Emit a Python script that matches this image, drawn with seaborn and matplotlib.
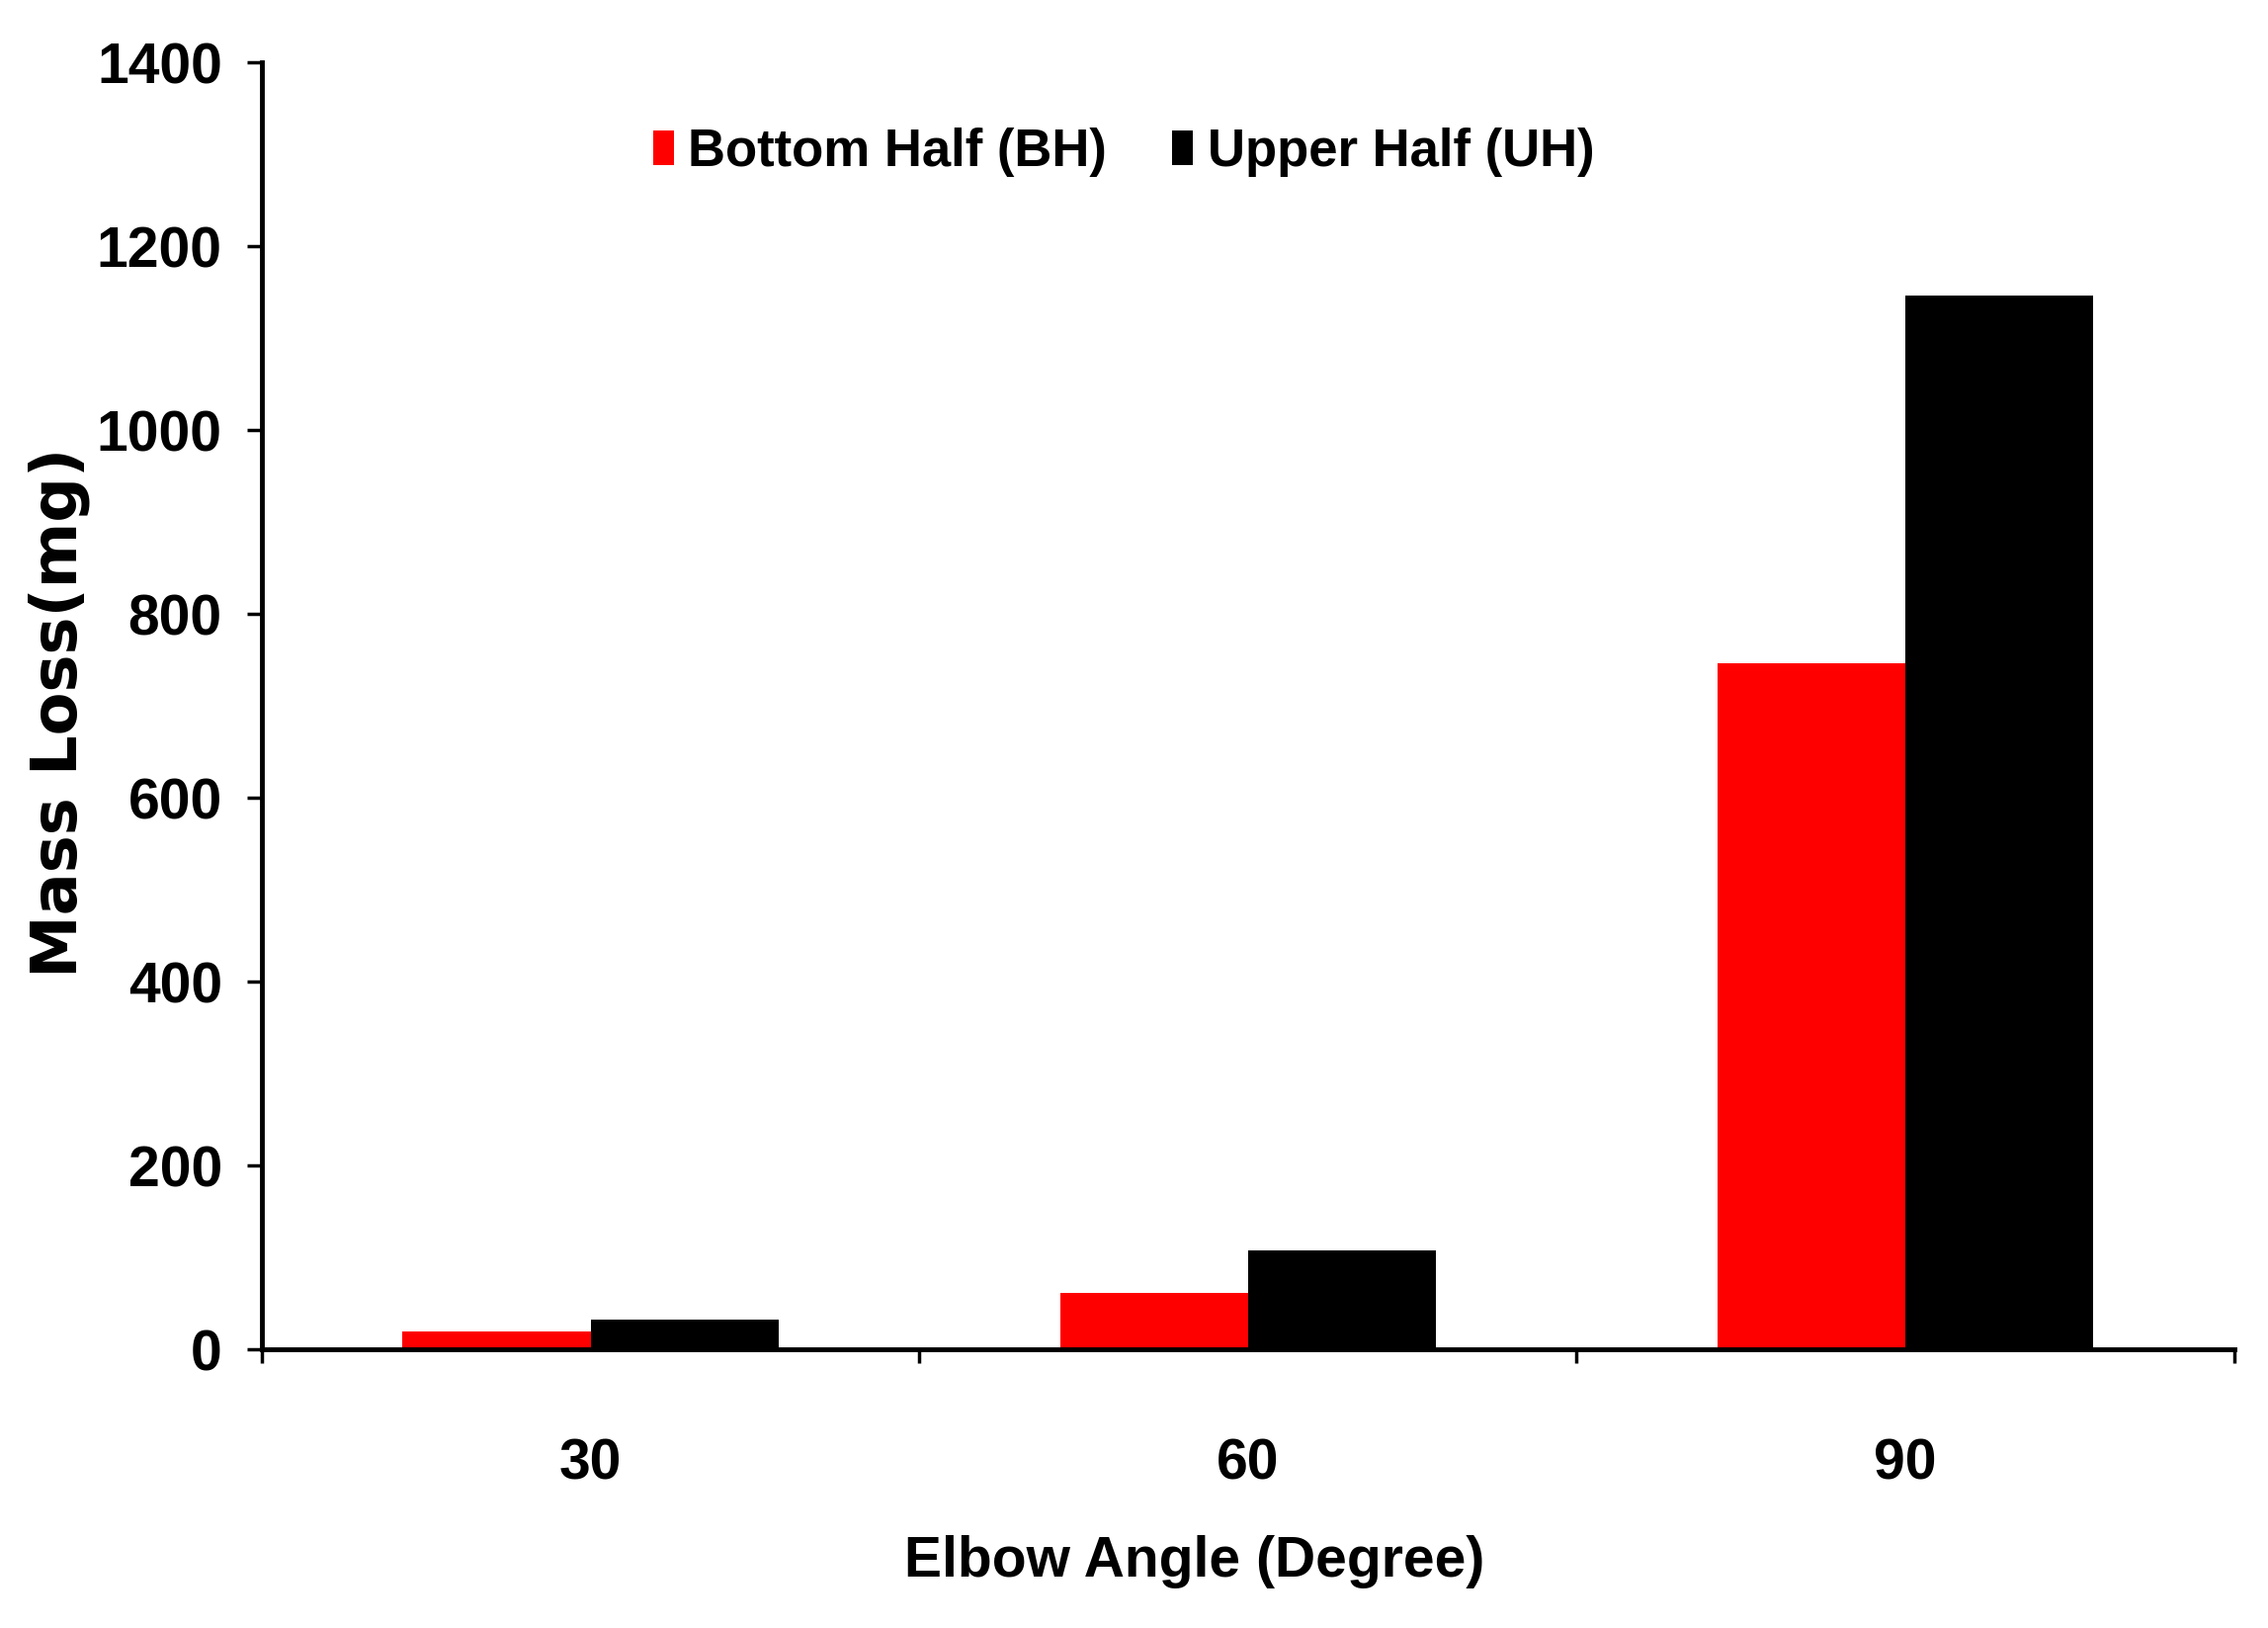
import pandas as pd
import seaborn as sns
import matplotlib.pyplot as plt
from matplotlib.ticker import FixedLocator

# data
angles = ['30', '60', '90']
bottom_half = [20, 62, 746]
upper_half = [33, 108, 1146]
series_names = ['Bottom Half (BH)', 'Upper Half (UH)']
y_ticks = [0, 200, 400, 600, 800, 1000, 1200, 1400]

df = pd.DataFrame({
    'angle': angles * 2,
    'mass_loss': bottom_half + upper_half,
    'half': [series_names[0]] * 3 + [series_names[1]] * 3,
})

sns.set_style('white')
plt.rcParams['font.family'] = ['Liberation Sans', 'DejaVu Sans']
plt.rcParams['font.weight'] = 'bold'
plt.rcParams['text.color'] = 'black'
plt.rcParams['axes.labelcolor'] = 'black'
plt.rcParams['xtick.color'] = 'black'
plt.rcParams['ytick.color'] = 'black'

fig = plt.figure(figsize=(22.95, 16.47), dpi=100)
ax = fig.add_axes([0.1155, 0.171, 0.8695, 0.7907])

sns.barplot(data=df, x='angle', y='mass_loss', hue='half', order=angles,
            hue_order=series_names, palette=['#ff0000', '#000000'],
            width=0.572, gap=0, saturation=1, linewidth=0, ax=ax)

ax.set_ylim(0, 1400)
ax.set_xlim(-0.5, 2.5)
ax.set_yticks(y_ticks)
ax.set_yticklabels([str(t) for t in y_ticks], fontsize=41, fontweight='bold')
ax.set_xticks(range(len(angles)))
ax.set_xticklabels(angles, fontsize=41, fontweight='bold')
ax.xaxis.set_minor_locator(FixedLocator([-0.5, 0.5, 1.5, 2.5]))

sns.despine(ax=ax)
for side in ['left', 'bottom']:
    ax.spines[side].set_linewidth(3.5)
    ax.spines[side].set_color('black')

ax.tick_params(axis='y', which='major', direction='out', length=11, width=2.5,
               color='black', pad=18, left=True)
ax.tick_params(axis='x', which='major', length=0, pad=64)
ax.tick_params(axis='x', which='minor', direction='out', length=10, width=2.5,
               color='black', bottom=True)

ax.set_xlabel('Elbow Angle (Degree)', fontsize=41, fontweight='bold', va='center')
ax.xaxis.set_label_coords(0.473, -0.165)
ax.set_ylabel('Mass Loss(mg)', fontsize=46, fontweight='bold', va='center',
              family='DejaVu Sans')
ax.yaxis.set_label_coords(-0.1027, 0.495)

ax.legend(loc='center left', bbox_to_anchor=(0.288, 0.9065),
          bbox_transform=fig.transFigure, ncol=2, frameon=False,
          fontsize=38, handlelength=0.4, handleheight=0.66,
          handletextpad=0.27, columnspacing=1.25, borderpad=0, borderaxespad=0)

fig.savefig('out.png', dpi=100)
